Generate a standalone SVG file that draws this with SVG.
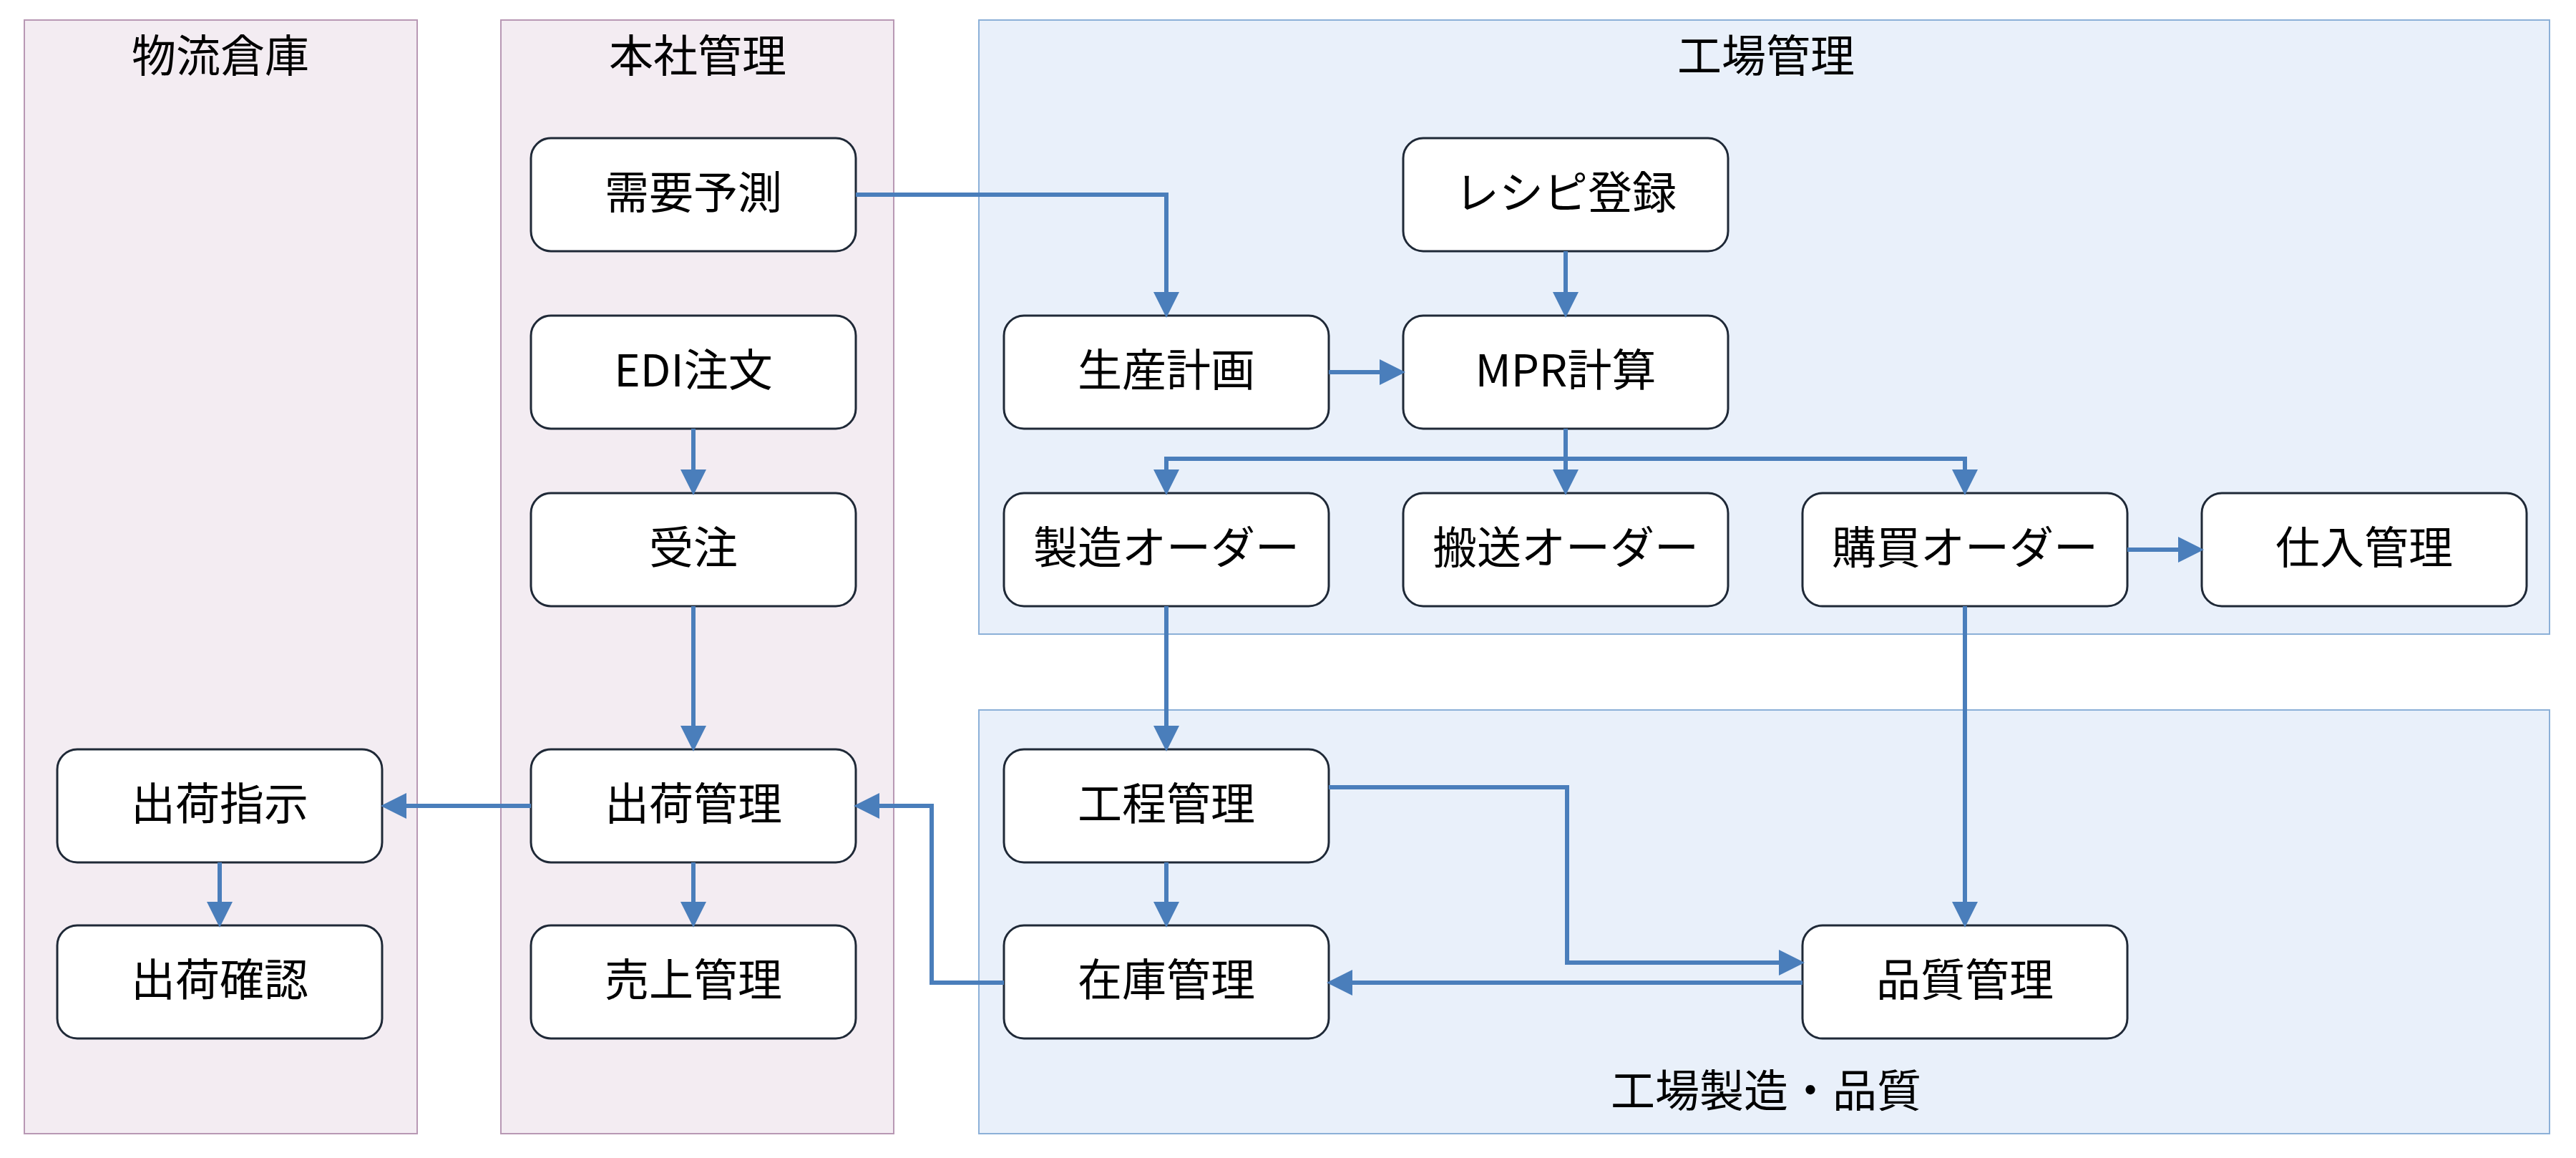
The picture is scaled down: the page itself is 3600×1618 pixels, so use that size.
<svg xmlns="http://www.w3.org/2000/svg" width="3600" height="1618" viewBox="0 0 3600 1618">
<style>
text{font-family:"Noto Sans CJK JP","Noto Sans",sans-serif;font-size:62px;fill:#000;text-anchor:middle;dominant-baseline:central}
.lp{fill:#f3ecf2;stroke:#b898b4;stroke-width:2}
.lb{fill:#e9f0fa;stroke:#8cb0d8;stroke-width:2}
.n rect{fill:#fff;stroke:#1f2937;stroke-width:3}
.c path{fill:none;stroke:#4a7ebb;stroke-width:6;marker-end:url(#a)}
</style>
<defs><marker id="a" markerWidth="6" markerHeight="6" refX="5" refY="3" orient="auto" markerUnits="strokeWidth"><path d="M0,0L6,3L0,6z" fill="#4a7ebb"/></marker></defs>
<rect fill="#fff" width="3600" height="1618"/>
<g id="lane1"><rect class="lp" x="34" y="28" width="549" height="1556"/><text x="308" y="74">物流倉庫</text></g>
<g id="lane2"><rect class="lp" x="700" y="28" width="549" height="1556"/><text x="975" y="74">本社管理</text></g>
<g id="lane3"><rect class="lb" x="1368" y="28" width="2195" height="858"/><text x="2468" y="74">工場管理</text></g>
<g id="lane4"><rect class="lb" x="1368" y="992" width="2195" height="592"/><text x="2468" y="1520">工場製造・品質</text></g>
<g id="n1" class="n"><rect x="742" y="193" width="454" height="158" rx="28"/><text x="969" y="265">需要予測</text></g>
<g id="n2" class="n"><rect x="742" y="441" width="454" height="158" rx="28"/><text x="969" y="513">EDI注文</text></g>
<g id="n3" class="n"><rect x="742" y="689" width="454" height="158" rx="28"/><text x="969" y="761">受注</text></g>
<g id="n4" class="n"><rect x="742" y="1047" width="454" height="158" rx="28"/><text x="969" y="1119">出荷管理</text></g>
<g id="n5" class="n"><rect x="742" y="1293" width="454" height="158" rx="28"/><text x="969" y="1365">売上管理</text></g>
<g id="n6" class="n"><rect x="80" y="1047" width="454" height="158" rx="28"/><text x="307" y="1119">出荷指示</text></g>
<g id="n7" class="n"><rect x="80" y="1293" width="454" height="158" rx="28"/><text x="307" y="1365">出荷確認</text></g>
<g id="n8" class="n"><rect x="1403" y="441" width="454" height="158" rx="28"/><text x="1630" y="513">生産計画</text></g>
<g id="n9" class="n"><rect x="1961" y="193" width="454" height="158" rx="28"/><text x="2188" y="265">レシピ登録</text></g>
<g id="n10" class="n"><rect x="1961" y="441" width="454" height="158" rx="28"/><text x="2188" y="513">MPR計算</text></g>
<g id="n11" class="n"><rect x="1403" y="689" width="454" height="158" rx="28"/><text x="1630" y="761">製造オーダー</text></g>
<g id="n12" class="n"><rect x="1961" y="689" width="454" height="158" rx="28"/><text x="2188" y="761">搬送オーダー</text></g>
<g id="n13" class="n"><rect x="2519" y="689" width="454" height="158" rx="28"/><text x="2746" y="761">購買オーダー</text></g>
<g id="n14" class="n"><rect x="3077" y="689" width="454" height="158" rx="28"/><text x="3304" y="761">仕入管理</text></g>
<g id="n15" class="n"><rect x="1403" y="1047" width="454" height="158" rx="28"/><text x="1630" y="1119">工程管理</text></g>
<g id="n16" class="n"><rect x="1403" y="1293" width="454" height="158" rx="28"/><text x="1630" y="1365">在庫管理</text></g>
<g id="n17" class="n"><rect x="2519" y="1293" width="454" height="158" rx="28"/><text x="2746" y="1365">品質管理</text></g>
<g id="connectors" class="c">
<path d="M1196,272H1630V438"/>
<path d="M2188,351V438"/>
<path d="M1857,520H1958"/>
<path d="M2188,599V686"/>
<path d="M2188,641H1630V686"/>
<path d="M2188,641H2746V686"/>
<path d="M2973,768H3074"/>
<path d="M969,599V686"/>
<path d="M969,847V1044"/>
<path d="M969,1205V1290"/>
<path d="M742,1126H538"/>
<path d="M307,1205V1290"/>
<path d="M1630,847V1044"/>
<path d="M1630,1205V1290"/>
<path d="M1857,1100H2190V1345H2516"/>
<path d="M2746,847V1290"/>
<path d="M2519,1373H1860"/>
<path d="M1403,1373H1302V1126H1199"/>
</g>
</svg>
